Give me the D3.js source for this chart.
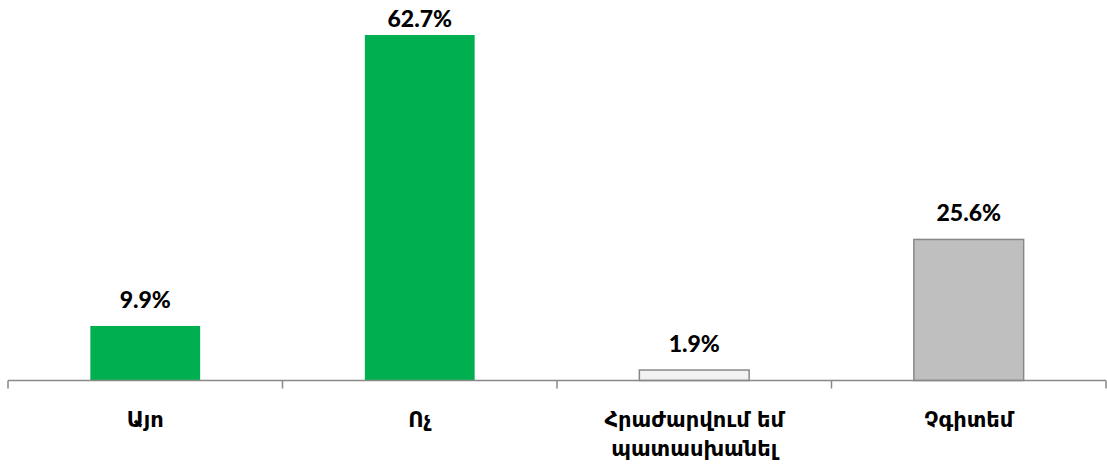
<!DOCTYPE html>
<html><head><meta charset="utf-8">
<script src="https://cdn.jsdelivr.net/npm/d3@7"></script>
<style>body{margin:0;background:#fff}</style>
</head><body>
<svg id="c" width="1107" height="464"></svg>
<script>
const categories = ["Այո", "Ոչ", "Հրաժարվում եմ պատասխանել", "Չգիտեմ"];
const categoryLines = [["Այո"], ["Ոչ"], ["Հրաժարվում եմ", "պատասխանել"], ["Չգիտեմ"]];
const values = [9.9, 62.7, 1.9, 25.6];
const labels = ["9.9%", "62.7%", "1.9%", "25.6%"];
const fills = ["#00B050", "#00B050", "#F2F2F2", "#BFBFBF"];
const strokes = ["none", "none", "#898989", "#898989"];

const svg = d3.select("#c");
const x = d3.scaleBand().domain(categories).range([8, 1106]).paddingInner(0).paddingOuter(0);
const y = d3.scaleLinear().domain([0, 62.7]).range([380.5, 35]);
const bw = x.bandwidth() * 0.4;

svg.selectAll("rect.bar").data(categories).enter().append("rect")
  .attr("x", d => x(d) + (x.bandwidth() - bw) / 2)
  .attr("y", (d, i) => y(values[i]))
  .attr("width", bw)
  .attr("height", (d, i) => y(0) - y(values[i]))
  .attr("fill", (d, i) => fills[i])
  .attr("stroke", (d, i) => strokes[i])
  .attr("stroke-width", 1.5);

// axis
const g = svg.append("g");
g.append("line").attr("x1", 8).attr("x2", 1106).attr("y1", y(0)).attr("y2", y(0))
  .attr("stroke", "#898989").attr("stroke-width", 1.5);
const tickX = categories.map(d => x(d)).concat([x.range()[1]]);
g.selectAll("line.t").data(tickX).enter().append("line")
  .attr("x1", d => d).attr("x2", d => d).attr("y1", y(0)).attr("y2", y(0) + 8)
  .attr("stroke", "#898989").attr("stroke-width", 1.5);

// value labels
svg.selectAll("text.v").data(categories).enter().append("text")
  .attr("x", d => x(d) + x.bandwidth() / 2)
  .attr("y", (d, i) => Math.max(27, y(values[i]) - 18))
  .attr("text-anchor", "middle")
  .attr("font-family", "Lato, 'DejaVu Sans', sans-serif")
  .attr("font-weight", "900")
  .attr("font-size", 23)
  .attr("fill", "#000")
  .text((d, i) => labels[i]);

// category labels
categories.forEach((c, i) => {
  const t = svg.append("text")
    .attr("x", x(c) + x.bandwidth() / 2)
    .attr("y", 427)
    .attr("text-anchor", "middle")
    .attr("font-family", "'DejaVu Sans', sans-serif")
    .attr("font-weight", "bold")
    .attr("font-size", 21)
    .attr("fill", "#000");
  categoryLines[i].forEach((ln, j) => {
    t.append("tspan").attr("x", x(c) + x.bandwidth() / 2).attr("dy", j === 0 ? 0 : 29).text(ln);
  });
});
</script>
</body></html>
